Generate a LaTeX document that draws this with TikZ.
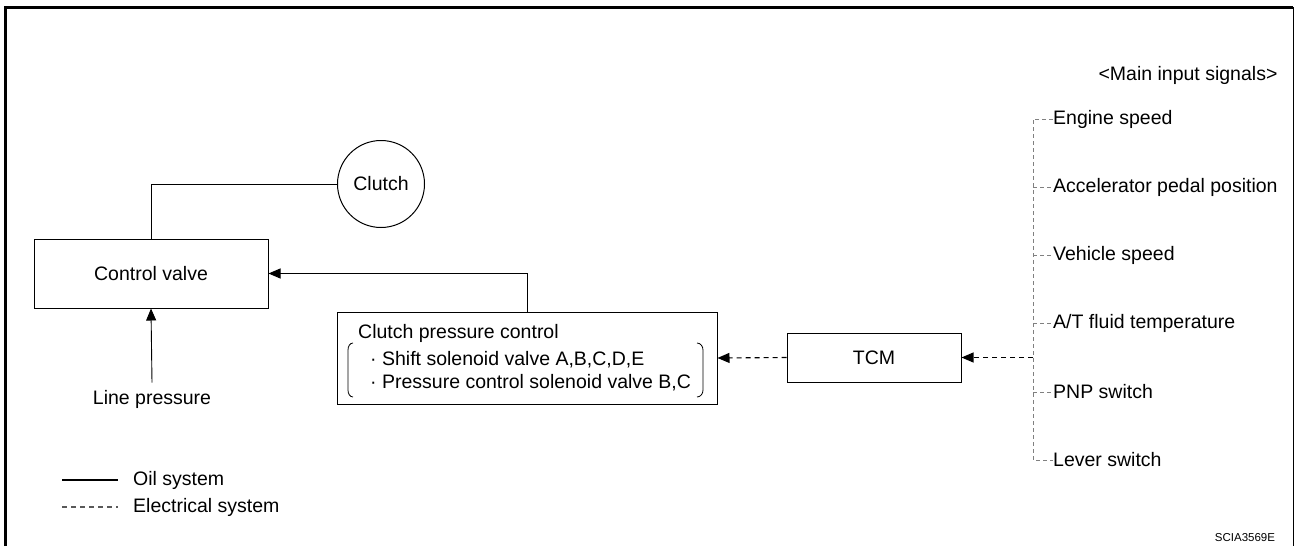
\documentclass[tikz,border=0pt]{standalone}
\usepackage{fontspec}
\setmainfont{Liberation Sans}
\usetikzlibrary{arrows.meta}

\begin{document}
\begin{tikzpicture}[x=1pt, y=-1pt,
    txt/.style={inner sep=0pt, font=\fontsize{19.5}{22}\selectfont},
    unit/.style={draw, line width=1pt, inner sep=0pt, font=\fontsize{19.5}{22}\selectfont},
    oil/.style={line width=0.9pt},
    elec/.style={line width=1.1pt, dash pattern=on 5pt off 4pt},
    sig/.style={line width=0.9pt, gray, dash pattern=on 4pt off 3pt},
    tip/.style={-{Triangle[length=12pt, width=10pt]}}]
  \useasboundingbox (0,0) rectangle (1295,546);
  \draw[line width=3pt] (5,546) -- (5,7) -- (1293,7);
  \draw[line width=1pt] (1293,7) -- (1293,546);

  \node[unit, minimum width=234, minimum height=69] (valve) at (151,273.5) {Control valve};
  \node[unit, circle, minimum size=87] (clutch) at (381,184) {Clutch};
  \node[txt] (line) at (152,399) {Line pressure};
  \node[unit, minimum width=380, minimum height=92] (ctrl) at (527,358) {};
  \node[txt, anchor=west] (ctrltitle) at (358,333) {Clutch pressure control};
  \node[txt, anchor=west] (item1) at (370,360) {· Shift solenoid valve A,B,C,D,E};
  \node[txt, anchor=west] (item2) at (370,383) {· Pressure control solenoid valve B,C};
  \node[unit, minimum width=174, minimum height=49] (tcm) at (874,357.5) {TCM};

  % brackets
  \draw[line width=0.8pt] (353,343) to[out=180, in=90] (348,350) -- (348,390) to[out=-90, in=180] (353,397);
  \draw[line width=0.8pt] (697,343) to[out=0, in=90] (703,350) -- (703,390) to[out=-90, in=0] (697,397);

  \draw[oil] (valve.north) |- (clutch.west);
  \draw[oil, tip] (line.north) ++(0,-7) -- (valve.south);
  \draw[oil, tip] (ctrl.north) |- (valve.east);
  \draw[elec, tip] (tcm.west) -- (ctrl.east);

  % input signals
  \node[txt] (inputs) at (1188,75) {<Main input signals>};
  \foreach \name/\y/\label in {s1/119/{Engine speed}, s2/187/{Accelerator pedal position},
      s3/255/{Vehicle speed}, s4/323/{A/T fluid temperature}, s5/392/{PNP switch}, s6/460/{Lever switch}} {
    \node[txt, anchor=west] (\name) at (1053,\y) {\label};
  }
  \coordinate (bus) at (1033,357.5);
  \draw[sig] (s1.west) -| (bus |- s6.west) -- (s6.west);
  \foreach \name in {s2,s3,s4,s5}
    \draw[sig] (bus |- \name.west) -- (\name.west);
  \draw[elec, tip] (bus) -- (tcm.east);

  % legend
  \coordinate (oilA) at (62,480);
  \coordinate (oilB) at (118,480);
  \coordinate (elecA) at (62,507);
  \coordinate (elecB) at (118,507);
  \draw[line width=2.2pt] (oilA) -- (oilB);
  \draw[elec, gray!70!black] (elecA) -- (elecB);
  \node[txt, anchor=west] (oillabel) at (133,480) {Oil system};
  \node[txt, anchor=west] (eleclabel) at (133,507) {Electrical system};

  \node[inner sep=0pt, font=\fontsize{11.5}{13}\selectfont] (code) at (1245,538) {SCIA3569E};
\end{tikzpicture}
\end{document}
